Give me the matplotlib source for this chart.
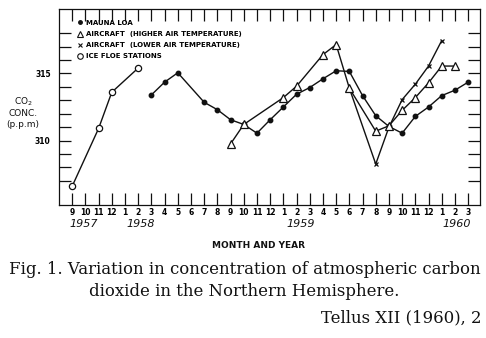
import matplotlib
matplotlib.use('Agg')
import matplotlib.pyplot as plt
from matplotlib.lines import Line2D

# month index 0 = Sep 1957 ... 30 = Mar 1960
month_labels = ['9', '10', '11', '12', '1', '2', '3', '4', '5', '6', '7', '8',
                '9', '10', '11', '12', '1', '2', '3', '4', '5', '6', '7', '8',
                '9', '10', '11', '12', '1', '2', '3']
year_labels = ['1957', '1958', '1959', '1960']
year_pos = [0.85, 5.2, 17.3, 29.1]

ice_x = [0, 2, 3, 5]
ice_y = [306.6, 310.9, 313.6, 315.4]

mauna_x = [6, 7, 8, 10, 11, 12, 13, 14, 15, 16, 17, 18, 19, 20, 21, 22, 23,
           24, 25, 26, 27, 28, 29, 30]
mauna_y = [313.4, 314.35, 315.05, 312.85, 312.3, 311.55, 311.2, 310.55, 311.55,
           312.5, 313.45, 313.95, 314.6, 315.2, 315.15, 313.35, 311.85, 311.05,
           310.55, 311.8, 312.5, 313.35, 313.75, 314.35]

high_x = [12, 13, 16, 17, 19, 20, 21, 23, 24, 25, 26, 27, 28, 29]
high_y = [309.75, 311.2, 313.2, 314.05, 316.4, 317.15, 313.9, 310.7, 311.1,
          312.25, 313.2, 314.3, 315.55, 315.55]

low_x = [21, 23, 24, 25, 26, 27, 28]
low_y = [313.9, 308.25, 311.0, 313.05, 314.2, 315.55, 317.45]

narrow = ['Liberation Sans Narrow', 'DejaVu Sans']
ink = '#111111'

fig = plt.figure(figsize=(4.86, 3.38), dpi=100)
ax = fig.add_axes([59/486, 1-205/338, 421/486, 196/338])

ax.plot(ice_x, ice_y, color=ink, lw=1.0, marker='o', ms=4.5, mfc='white', mec=ink, mew=0.9)
ax.plot(mauna_x, mauna_y, color=ink, lw=1.0, marker='o', ms=3.2, mfc=ink, mec=ink)
ax.plot(low_x, low_y, color=ink, lw=1.0, marker='x', ms=3.5, mew=0.9, markevery=list(range(1, len(low_x))))
ax.plot(high_x, high_y, color=ink, lw=1.0, marker='^', ms=6, mfc='white', mec=ink, mew=0.9)

ax.set_xlim(-1.0, 30.9)
ax.set_ylim(305.2, 319.8)
ax.set_xticks(range(len(month_labels)))
ax.set_xticklabels(month_labels)
ax.set_yticks([310, 315])
ax.set_yticklabels(['310', '315'])
ax.set_yticks(range(307, 319), minor=True)
ax.tick_params(axis='both', which='both', direction='in', length=8.5, width=0.9,
               top=True, right=True, color=ink)
ax.tick_params(axis='x', pad=2.5)
ax.tick_params(axis='y', pad=6)
for lab in ax.get_xticklabels() + ax.get_yticklabels():
    lab.set_family(narrow)
    lab.set_fontsize(5.5)
    lab.set_fontweight('bold')
for s in ax.spines.values():
    s.set_linewidth(0.9)
    s.set_color(ink)

for yr, xp in zip(year_labels, year_pos):
    ax.text(xp, -0.097, yr, transform=ax.get_xaxis_transform(), ha='center', va='center',
            fontsize=8, style='italic', family=narrow, color=ink)

handles = [Line2D([], [], ls='none', marker='o', ms=2.5, color=ink),
           Line2D([], [], ls='none', marker='^', ms=4.5, mfc='white', mec=ink, mew=0.8),
           Line2D([], [], ls='none', marker='x', ms=3, mec=ink, mew=0.8),
           Line2D([], [], ls='none', marker='o', ms=4, mfc='white', mec=ink, mew=0.8)]
names = ['MAUNA LOA', 'AIRCRAFT  (HIGHER AIR TEMPERATURE)',
         'AIRCRAFT  (LOWER AIR TEMPERATURE)', 'ICE FLOE STATIONS']
ax.legend(handles, names, loc='upper left', bbox_to_anchor=(0.045, 0.945), frameon=False,
          handlelength=0.7, handletextpad=0.5, labelspacing=0.75, borderpad=0, borderaxespad=0,
          prop={'family': narrow, 'size': 5.0, 'weight': 'bold'})

fig.text(23/486, 1-112/338, 'CO$_2$\nCONC.\n(p.p.m)', ha='center', va='center',
         fontsize=6.5, family=narrow, linespacing=1.25, color=ink)
fig.text(259/486, 1-245/338, 'MONTH AND YEAR', ha='center', va='center',
         fontsize=6.5, family=narrow, weight='bold', color=ink)

fig.text(245/486, 1-269/338, 'Fig. 1. Variation in concentration of atmospheric carbon',
         ha='center', va='center', fontsize=11.9, family='DejaVu Serif', color=ink)
fig.text(244/486, 1-291/338, 'dioxide in the Northern Hemisphere.',
         ha='center', va='center', fontsize=11.9, family='DejaVu Serif', color=ink)
fig.text(481/486, 1-318/338, 'Tellus XII (1960), 2', ha='right', va='center',
         fontsize=11.9, family='DejaVu Serif', color=ink)

fig.savefig('out.png', dpi=100, facecolor='white')
